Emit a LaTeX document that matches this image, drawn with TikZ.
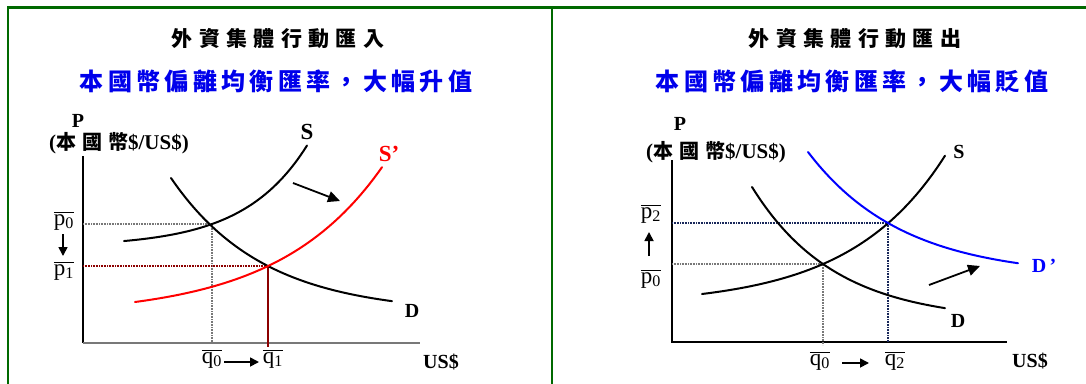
\documentclass[tikz,border=0pt]{standalone}
\usepackage{fontspec}
\setmainfont{Liberation Serif}
\newfontfamily\cjkT{Noto Sans CJK TC}[LetterSpace=30]
\newfontfamily\cjkS{Noto Sans CJK TC}[LetterSpace=18]
\newfontfamily\cjkA{Noto Sans CJK TC}[LetterSpace=30]
\usetikzlibrary{arrows.meta}
\definecolor{frameg}{RGB}{0,105,0}
\definecolor{tblue}{RGB}{0,0,235}
\definecolor{dred}{RGB}{140,0,0}
\definecolor{navyd}{RGB}{25,40,90}
\definecolor{dgray}{RGB}{120,120,120}
\newcommand\olab[2]{$\overline{\hbox{\rule{0pt}{11pt}#1\textsubscript{#2}}}$}
\tikzset{
  frame/.style={draw=frameg, line width=2.2pt},
  title/.style={font=\fontsize{21}{24}\selectfont\cjkT\bfseries, inner sep=0pt},
  subtitle/.style={font=\fontsize{24}{27}\selectfont\cjkS\bfseries, text=tblue, inner sep=0pt},
  ax/.style={line width=1.3pt},
  curve/.style={line width=2pt, line cap=round},
  lbl/.style={font=\fontsize{20}{22}\selectfont\bfseries, inner sep=0pt},
  plab/.style={font=\fontsize{23}{24}\selectfont, inner sep=0pt, anchor=base},
  guide/.style={line width=1.3pt, dash pattern=on 1pt off 0.6pt},
  shiftarrow/.style={line width=1.8pt, -{Triangle[length=12pt,width=11pt]}},
  smallarrow/.style={line width=1.7pt, -{Triangle[length=9pt,width=9pt]}},
}
\begin{document}
\begin{tikzpicture}[x=1pt,y=-1pt]
\useasboundingbox (0,0) rectangle (1086,383);
% frame
\draw[frame] (8,395) -- (8,7.5) -- (1090,7.5);
\draw[frame] (552,7.5) -- (552,395);

% ================= LEFT PANEL =================
\node[title] (t1) at (278,39) {外資集體行動匯入};
\node[subtitle] (s1) at (276,81) {本國幣偏離均衡匯率，大幅升值};
\node[lbl] (P1) at (78,121) {P};
\node[inner sep=0pt] (U1) at (119,143) {{\fontsize{21}{22}\selectfont\bfseries(}{\fontsize{20}{22}\selectfont\cjkA\bfseries 本國幣}{\fontsize{21}{22}\selectfont\bfseries\$/US\$)}};
% axes
\coordinate (O1) at (83,343);
\draw[ax] (83,156) -- (O1);
\draw[ax, dgray, line width=1.6pt] (O1) -- (420,343);
\node[lbl] (US1) at (441,362) {US\$};
% guides
\coordinate (E0) at (212,224);
\coordinate (E1) at (268,266);
\draw[guide, dgray] (83,224) -- (E0) -- (212,343);
\draw[guide, dred] (83,266) -- (E1);
\draw[dred, line width=2.5pt] (E1) -- (268,347);
% curves
\draw[curve] plot[domain=124:307, samples=60] (\x, {343-(96.3+5.67*exp(0.01575*(\x-124)))});
\draw[curve] plot[domain=171:392, samples=60] (\x, {343-(29.4+135.6*exp(-0.0108*(\x-171)))});
\draw[curve, red] plot[domain=135:382, samples=60] (\x, {343-(27.05+13.95*exp(0.00959*(\x-135)))});
\node[lbl, font=\fontsize{23}{24}\selectfont\bfseries] (S1) at (307,132) {S};
\node[lbl, red, font=\fontsize{23}{24}\selectfont\bfseries] (S1p) at (389,154) {S’};
\node[lbl] (D1) at (412,311) {D};
% shift arrow
\coordinate (a1s) at (293,183);
\coordinate (a1e) at (340,201);
\draw[shiftarrow] (a1s) -- (a1e);
% labels
\node[plab] (p0L) at (64,225) {\olab{p}{0}};
\node[plab] (p1L) at (64,275) {\olab{p}{1}};
\coordinate (pa1s) at (63,234);
\coordinate (pa1e) at (63,256);
\draw[smallarrow] (pa1s) -- (pa1e);
\node[plab] (q0L) at (212,363) {\olab{q}{0}};
\node[plab] (q1L) at (273,363) {\olab{q}{1}};
\coordinate (qa1s) at (224,362);
\coordinate (qa1e) at (259,362);
\draw[smallarrow] (qa1s) -- (qa1e);

% ================= RIGHT PANEL =================
\node[title] (t2) at (855,39) {外資集體行動匯出};
\node[subtitle] (s2) at (852,81) {本國幣偏離均衡匯率，大幅貶值};
\node[lbl] (P2) at (680,124) {P};
\node[inner sep=0pt] (U2) at (716,152) {{\fontsize{21}{22}\selectfont\bfseries(}{\fontsize{20}{22}\selectfont\cjkA\bfseries 本國幣}{\fontsize{21}{22}\selectfont\bfseries\$/US\$)}};
\coordinate (O2) at (672,342);
\draw[ax] (672,160) -- (O2) -- (1007,342);
\node[lbl] (US2) at (1030,361) {US\$};
\coordinate (F0) at (823,264);
\coordinate (F2) at (888,223);
\draw[guide, dgray] (672,264) -- (F0) -- (823,345);
\draw[guide, navyd] (672,223) -- (F2) -- (888,342);
\draw[curve] plot[domain=702:945, samples=60] (\x, {342-(36.3+11.7*exp(0.0105*(\x-702)))});
\draw[curve] plot[domain=752:945, samples=60] (\x, {342-(20.6+134.4*exp(-0.012*(\x-752)))});
\draw[curve, blue] plot[domain=808:1018, samples=60] (\x, {342-(65+125*exp(-0.0105*(\x-808)))});
\node[lbl] (S2) at (959,152) {S};
\node[lbl] (D2) at (958,321) {D};
\node[lbl, blue] (D2p) at (1044,266) {D\,’};
\coordinate (a2s) at (929,285);
\coordinate (a2e) at (980,266);
\draw[shiftarrow] (a2s) -- (a2e);
\node[plab] (p2R) at (651,218) {\olab{p}{2}};
\node[plab] (p0R) at (651,283) {\olab{p}{0}};
\coordinate (pa2s) at (649,256);
\coordinate (pa2e) at (649,232);
\draw[smallarrow] (pa2s) -- (pa2e);
\node[plab] (q0R) at (820,365) {\olab{q}{0}};
\node[plab] (q2R) at (895,365) {\olab{q}{2}};
\coordinate (qa2s) at (842,363);
\coordinate (qa2e) at (869,363);
\draw[smallarrow] (qa2s) -- (qa2e);
\end{tikzpicture}
\end{document}
